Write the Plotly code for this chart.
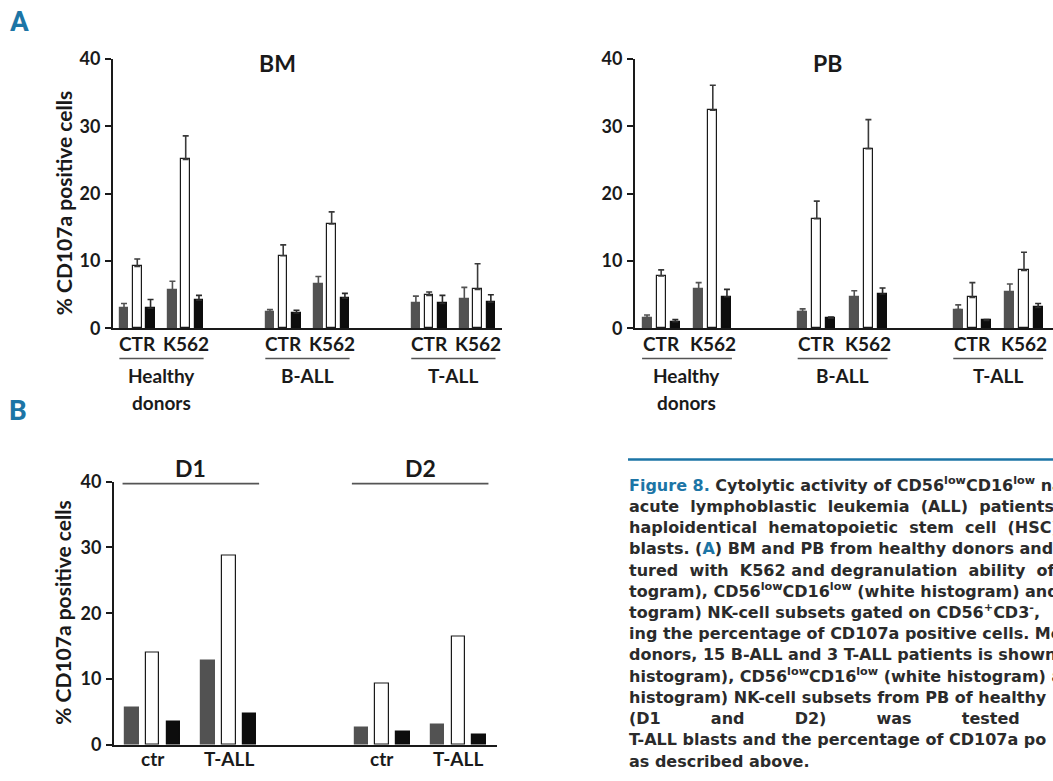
import plotly.graph_objects as go

W, H = 1053, 781

# ---------------- data ----------------
groups_A = ["Healthy<br>donors", "B-ALL", "T-ALL"]
conds_A = ["CTR", "K562"]
subsets = ["CD56bright", "CD56lowCD16low", "CD56dimCD16high"]

# order: HD CTR, HD K562, B CTR, B K562, T CTR, T K562
bm_gray = [3.0, 5.7, 2.5, 6.6, 3.8, 4.4]
bm_gray_err = [0.7, 1.3, 0.3, 1.1, 1.0, 1.7]
bm_white = [9.2, 25.1, 10.8, 15.5, 4.9, 5.8]
bm_white_err = [1.1, 3.5, 1.6, 1.8, 0.5, 3.8]
bm_black = [3.0, 4.2, 2.3, 4.5, 3.7, 3.9]
bm_black_err = [1.3, 0.7, 0.4, 0.7, 1.2, 1.1]

pb_gray = [1.6, 5.9, 2.5, 4.7, 2.8, 5.4]
pb_gray_err = [0.4, 0.9, 0.4, 0.9, 0.7, 1.2]
pb_white = [7.8, 32.4, 16.3, 26.7, 4.6, 8.6]
pb_white_err = [0.9, 3.7, 2.6, 4.3, 2.2, 2.7]
pb_black = [1.0, 4.7, 1.5, 5.1, 1.2, 3.1]
pb_black_err = [0.3, 1.1, 0.2, 0.9, 0.1, 0.6]

groups_B = ["D1", "D2"]
conds_B = ["ctr", "T-ALL"]
d_gray = [5.7, 12.8, 2.6, 3.1]
d_white = [14.0, 28.8, 9.3, 16.5]
d_black = [3.5, 4.8, 2.0, 1.6]

y_ticks = [0, 10, 20, 30, 40]

# ---------------- style ----------------
GRAY = "#525252"
BLACK = "#0d0d0d"
LINE = "#1a1a1a"
TEAL = "#1c75a6"
FONT = "Lato"
CAP_FONT = "DejaVu Sans"
GROUP_GAP, COND_GAP, BAR_W = 11.0, 3.65, 0.64

# the photographed page shows the figure between rows 12 and 770
V_OFF, V_SCALE = 12.0, 758.0 / 781.0


def px_x(p):
    return p / W


def px_y(p):
    return 1 - ((p - V_OFF) / V_SCALE) / H


def positions(n_groups, n_conds, sub):
    return [g * GROUP_GAP + c * COND_GAP + sub for g in range(n_groups) for c in range(n_conds)]


fig = go.Figure()

styles = [
    (GRAY, GRAY, GRAY),
    ("white", LINE, "#3a3a3a"),
    (BLACK, BLACK, "#2a2a2a"),
]


def add_panel(vals, errs, xa, ya, n_groups, n_conds):
    for s, (v, e) in enumerate(zip(vals, errs)):
        fill, edge, ecol = styles[s]
        kw = {}
        if e is not None:
            kw["error_y"] = dict(type="data", symmetric=False, array=e,
                                 arrayminus=[0] * len(e), color=ecol,
                                 thickness=1.6, width=3)
        fig.add_trace(go.Bar(
            x=positions(n_groups, n_conds, s), y=v, width=BAR_W,
            marker=dict(color=fill, line=dict(color=edge, width=1.2)),
            xaxis=xa, yaxis=ya, showlegend=False, name=subsets[s], **kw))


add_panel([bm_gray, bm_white, bm_black], [bm_gray_err, bm_white_err, bm_black_err], "x", "y", 3, 2)
add_panel([pb_gray, pb_white, pb_black], [pb_gray_err, pb_white_err, pb_black_err], "x2", "y2", 3, 2)
add_panel([d_gray, d_white, d_black], [None, None, None], "x3", "y3", 2, 2)

tickfont = dict(family=FONT, size=18, color=LINE, weight="bold")
xcommon = dict(showline=True, linecolor=LINE, linewidth=2, ticks="", showticklabels=False,
               showgrid=False, zeroline=False, fixedrange=True)
ycommon = dict(showline=True, linecolor=LINE, linewidth=2, ticks="outside", ticklen=6,
               tickwidth=2, tickcolor=LINE, tickvals=y_ticks, range=[0, 40], showgrid=False,
               zeroline=False, tickfont=tickfont, ticklabelstandoff=1, fixedrange=True)

# panel domains (pixel based)
bm_x = (113, 502)
pb_x = (635, 1053)
d_x = (114, 497)
A_y = (59, 328)
B_y = (481, 744)

fig.update_layout(
    width=W, height=H, margin=dict(l=0, r=0, t=0, b=0),
    paper_bgcolor="white", plot_bgcolor="rgba(0,0,0,0)", bargap=0,
    xaxis=dict(domain=[px_x(bm_x[0]), px_x(bm_x[1])], range=[-0.83, 28.49], anchor="y", **xcommon),
    yaxis=dict(domain=[px_y(A_y[1]), px_y(A_y[0])], anchor="x", **ycommon),
    xaxis2=dict(domain=[px_x(pb_x[0]), px_x(pb_x[1])], range=[-0.85, 28.7], anchor="y2", **xcommon),
    yaxis2=dict(domain=[px_y(A_y[1]), px_y(A_y[0])], anchor="x2", **ycommon),
    xaxis3=dict(domain=[px_x(d_x[0]), px_x(d_x[1])], range=[-0.86, 17.51], anchor="y3", **xcommon),
    yaxis3=dict(domain=[px_y(B_y[1]), px_y(B_y[0])], anchor="x3", **ycommon),
)

ann = []
shapes = []


def label(x, y, text, size=19, xref="paper", color=LINE, family=FONT, yanchor="middle", **kw):
    ann.append(dict(x=x, y=y, xref=xref, yref="paper", text=text, showarrow=False,
                    xanchor="center", yanchor=yanchor,
                    font=dict(family=family, size=size, color=color, weight="bold"), **kw))


# panel A category labels
for xa in ("x", "x2"):
    for g, gname in enumerate(groups_A):
        base = g * GROUP_GAP
        for c, cname in enumerate(conds_A):
            label(base + c * COND_GAP + 1, px_y(343), cname, xref=xa)
        shapes.append(dict(type="line", xref=xa, yref="paper", x0=base - 0.35,
                           x1=base + COND_GAP + 2 + 0.35, y0=px_y(358), y1=px_y(358),
                           line=dict(color="#555555", width=1.6)))
        mid = base + (COND_GAP + 2) / 2
        for i, t in enumerate(gname.split("<br>")):
            label(mid, px_y(375 + 27 * i), t, xref=xa)

label(277 / W, px_y(63), "BM", size=23)
label(827 / W, px_y(63), "PB", size=23)

# panel B labels
for g, gname in enumerate(groups_B):
    base = g * GROUP_GAP
    for c, cname in enumerate(conds_B):
        label(base + c * COND_GAP + 1, max(px_y(779), 0), cname, xref="x3",
              yanchor="bottom", borderpad=0)
    shapes.append(dict(type="line", xref="x3", yref="paper", x0=base - 0.45,
                       x1=base + COND_GAP + 2 + 0.45, y0=px_y(483), y1=px_y(483),
                       line=dict(color="#555555", width=1.6)))
    label(base + (COND_GAP + 2) / 2, px_y(467), gname, xref="x3", size=23)

# y titles
label(63 / W, px_y(203), "% CD107a positive cells", size=21, textangle=-90)
label(63 / W, px_y(612), "% CD107a positive cells", size=21, textangle=-90)

# panel letters
label(19 / W, min(px_y(21), 1.0), "A", size=28, color=TEAL, family="Roboto")
label(18 / W, px_y(410), "B", size=28, color=TEAL, family="Roboto")

# caption
shapes.append(dict(type="line", xref="paper", yref="paper", x0=628 / W, x1=1.0,
                   y0=px_y(459), y1=px_y(459), line=dict(color=TEAL, width=2.5)))
low = "<sup>low</sup>"
nb = "\u00a0"
sp = nb * 9
caption = [
    f"<span style='color:{TEAL}'>Figure 8.</span> Cytolytic activity of CD56{low}CD16{low} na",
    f"acute {nb}lymphoblastic {nb}leukemia {nb}(ALL) {nb}patients",
    f"haploidentical {nb}hematopoietic {nb}stem {nb}cell {nb}(HSC)",
    f"blasts. (<span style='color:{TEAL}'>A</span>) BM and PB from healthy donors and",
    f"tured {nb}with {nb}K562 and degranulation {nb}ability {nb}of",
    f"togram), CD56{low}CD16{low} (white histogram) and",
    "togram) NK-cell subsets gated on CD56<sup>+</sup>CD3<sup>-</sup>,",
    "ing the percentage of CD107a positive cells. Me",
    "donors, 15 B-ALL and 3 T-ALL patients is shown",
    f"histogram), CD56{low}CD16{low} (white histogram) a",
    "histogram) NK-cell subsets from PB of healthy",
    f"(D1{sp}and{sp}D2){sp}was{sp}tested",
    "T-ALL blasts and the percentage of CD107a po",
    "as described above.",
]
for i, t in enumerate(caption):
    ann.append(dict(x=628 / W, y=px_y(495 + 21.2 * i), xref="paper", yref="paper", text=t,
                    showarrow=False, xanchor="left", yanchor="bottom", borderpad=0,
                    font=dict(family=CAP_FONT, size=16, color="#2b2b2b", weight="bold")))

fig.update_layout(annotations=ann, shapes=shapes)

page_fix = (
    "document.body.style.margin='0';document.body.style.overflow='hidden';"
    "var gd=document.getElementById('{plot_id}');gd.style.position='fixed';"
    "gd.style.left='0px';gd.style.top='0px';"
)
fig.write_html("out.html", post_script=page_fix, config={"displayModeBar": False})
